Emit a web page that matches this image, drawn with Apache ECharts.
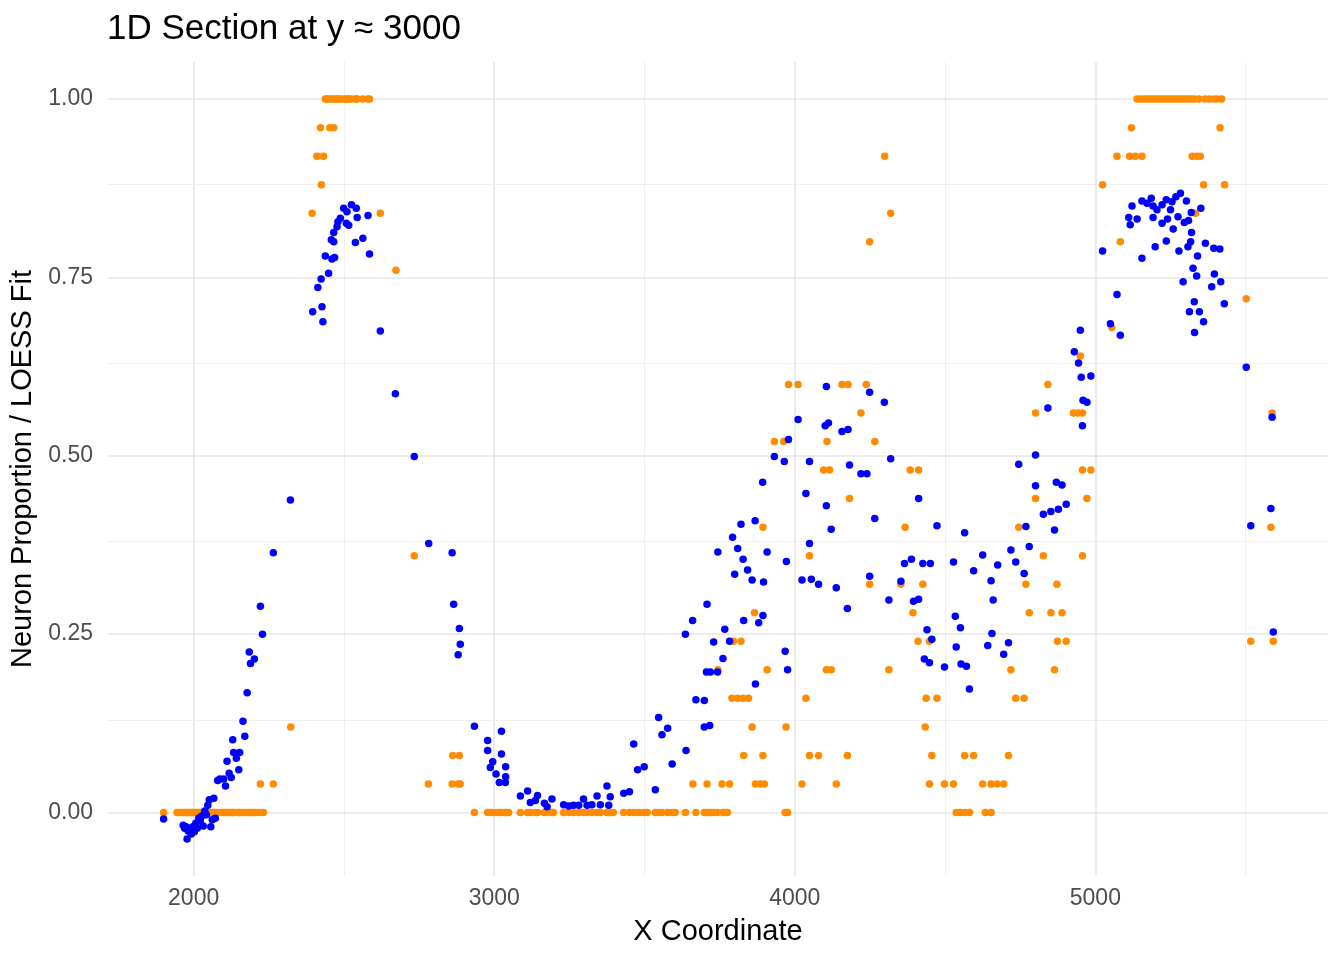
<!DOCTYPE html>
<html>
<head>
<meta charset="utf-8">
<script src="https://cdn.jsdelivr.net/npm/echarts@6/dist/echarts.min.js"></script>
<style>
html,body{margin:0;padding:0;background:#fff;}
#chart{width:1344px;height:960px;}
</style>
</head>
<body>
<div id="chart"></div>
<script>
// Observed neuron proportion (orange)
const proportion = [
[1900,0],[1945,0],[1952,0],[1958,0],[1965,0],[1970,0],[1975,0],[1978,0],[1982,0],[1987,0],[1992,0],[1997,0],
[2002,0],[2007,0],[2012,0],[2017,0],[2022,0],[2027,0],[2032,0],[2037,0],[2042,0],[2047,0],[2052,0],[2057,0],
[2062,0],[2067,0],[2072,0],[2080,0],[2087,0],[2094,0],[2100,0],[2106,0],[2111,0],[2118,0],[2125,0],[2130,0],
[2133,0],[2142,0],[2150,0],[2153,0],[2164,0],[2170,0],[2178,0],[2185,0],[2189,0],[2195,0],[2202,0],[2210,0],
[2218,0],[2232,0],[2222,0.04],[2265,0.04],[2323,0.12],
[2394,0.84],[2410,0.92],[2432,0.92],[2422,0.96],[2453,0.96],[2466,0.96],[2425,0.88],
[2438,1],[2444,1],[2449,1],[2458,1],[2460,1],[2469,1],[2477,1],[2480,1],[2488,1],[2499,1],[2508,1],[2510,1],
[2516,1],[2525,1],[2538,1],[2541,1],[2544,1],[2563,1],[2580,1],[2585,1],
[2621,0.84],[2673,0.76],[2734,0.36],[2781,0.04],[2862,0.08],[2884,0.08],[2860,0.04],[2880,0.04],[2887,0.04],
[2934,0],[2978,0],[2987,0],[2995,0],[3006,0],[3017,0],[3024,0],[3037,0],[3038,0],[3048,0],[3087,0],[3111,0],
[3120,0],[3137,0],[3144,0],[3167,0],[3176,0],[3192,0],[3197,0],[3231,0],[3248,0],[3264,0],[3281,0],[3297,0],
[3309,0],[3325,0],[3342,0],[3353,0],[3375,0],[3381,0],[3386,0],[3396,0],[3431,0],[3450,0],[3464,0],[3477,0],
[3484,0],[3499,0],[3509,0],[3536,0],[3547,0],[3558,0],[3577,0],[3592,0],[3602,0],[3636,0],[3671,0],[3699,0],
[3706,0],[3717,0],[3719,0],[3730,0],[3743,0],[3761,0],[3767,0],[3776,0],[3968,0],[3976,0],
[3661,0.04],[3708,0.04],[3758,0.04],[3783,0.04],[3869,0.04],[3886,0.04],[3899,0.04],[4024,0.04],
[3830,0.08],[3894,0.08],[4049,0.08],[4079,0.08],[3858,0.12],[3971,0.12],
[3791,0.16],[3810,0.16],[3828,0.16],[3846,0.16],[4037,0.16],[3744,0.2],[3908,0.2],[4105,0.2],
[3796,0.24],[3821,0.24],[3866,0.28],[4049,0.36],[3894,0.4],[4096,0.48],[4116,0.48],
[3932,0.52],[3963,0.52],[4107,0.52],[3979,0.6],[4011,0.6],
[4157,0.6],[4177,0.6],[4238,0.6],[4220,0.56],[4266,0.52],[4384,0.48],[4412,0.48],[4182,0.44],[4367,0.4],
[4249,0.32],[4353,0.32],[4426,0.32],[4393,0.28],[4410,0.24],[4448,0.24],[4121,0.2],[4313,0.2],
[4437,0.16],[4473,0.16],[4434,0.12],[4175,0.08],[4456,0.08],[4138,0.04],[4448,0.04],[4498,0.04],[4528,0.04],
[4299,0.92],[4319,0.84],[4249,0.8],
[4537,0],[4551,0],[4565,0],[4581,0],[4634,0],[4653,0],
[4565,0.08],[4595,0.08],[4711,0.08],[4625,0.04],[4653,0.04],[4673,0.04],[4695,0.04],
[4719,0.2],[4864,0.2],[4735,0.16],[4763,0.16],[4745,0.4],[4769,0.32],[4872,0.32],
[4780,0.28],[4852,0.28],[4889,0.28],[4801,0.56],[4927,0.56],[4942,0.56],[4957,0.56],[4801,0.44],
[4827,0.36],[4957,0.36],[4842,0.6],[4874,0.24],[4903,0.24],[4957,0.48],[4985,0.48],[4972,0.44],[4950,0.64],
[5024,0.88],[5360,0.88],[5430,0.88],[5055,0.68],[5072,0.92],[5114,0.92],[5133,0.92],[5155,0.92],
[5322,0.92],[5338,0.92],[5349,0.92],[5083,0.8],[5120,0.96],[5415,0.96],
[5139,1],[5150,1],[5160,1],[5170,1],[5180,1],[5190,1],[5200,1],[5210,1],[5220,1],[5230,1],[5240,1],[5250,1],
[5260,1],[5270,1],[5280,1],[5290,1],[5300,1],[5310,1],[5320,1],[5330,1],[5345,1],[5365,1],[5380,1],[5395,1],
[5405,1],[5420,1],
[5333,0.84],[5502,0.72],[5517,0.24],[5592,0.24],[5588,0.56],[5584,0.4]
];

// LOESS fit (blue)
const loessFit = [
[1900,-0.009],[1965,-0.018],[1970,-0.022],[1975,-0.02],[1978,-0.037],[1982,-0.026],[1987,-0.024],[1992,-0.03],
[1997,-0.02],[2002,-0.027],[2007,-0.015],[2012,-0.022],[2017,-0.008],[2022,-0.012],[2027,-0.005],[2032,-0.019],
[2037,0.002],[2042,-0.003],[2047,0.01],[2052,0.018],[2057,-0.02],[2062,-0.01],[2067,0.02],[2072,-0.008],
[2080,0.045],[2087,0.047],[2100,0.047],[2106,0.037],[2111,0.072],[2118,0.055],[2125,0.049],[2130,0.102],
[2133,0.084],[2142,0.076],[2150,0.06],[2153,0.084],[2164,0.128],[2170,0.107],[2178,0.168],
[2185,0.225],[2189,0.209],[2202,0.215],[2222,0.289],[2229,0.25],[2265,0.364],[2322,0.438],
[2396,0.702],[2413,0.736],[2424,0.748],[2427,0.709],[2430,0.688],[2438,0.78],[2449,0.756],[2458,0.803],
[2460,0.776],[2466,0.813],[2466,0.8],[2469,0.778],[2477,0.821],[2480,0.828],[2488,0.833],[2499,0.847],
[2508,0.826],[2510,0.842],[2516,0.823],[2525,0.852],[2538,0.799],[2541,0.847],[2544,0.834],[2563,0.805],
[2580,0.837],[2585,0.783],[2621,0.675],[2671,0.587],[2734,0.499],[2782,0.377],
[2860,0.364],[2865,0.292],[2884,0.258],[2887,0.236],[2880,0.221],[2934,0.121],[2978,0.101],[2978,0.087],
[3024,0.114],[3024,0.082],[2995,0.071],[2987,0.063],[3006,0.054],[3038,0.064],[3038,0.05],[3017,0.042],
[3037,0.042],[3087,0.023],[3111,0.03],[3120,0.014],[3144,0.024],[3137,0.017],[3167,0.013],[3176,0.008],
[3192,0.019],[3231,0.011],[3248,0.009],[3264,0.01],[3281,0.01],[3297,0.019],[3309,0.01],[3325,0.011],
[3342,0.023],[3353,0.011],[3375,0.037],[3386,0.022],[3381,0.01],[3431,0.027],[3450,0.029],[3464,0.096],
[3477,0.06],[3499,0.064],[3536,0.032],[3547,0.133],[3558,0.109],[3577,0.118],[3592,0.068],[3636,0.25],
[3638,0.087],[3660,0.269],[3671,0.158],[3699,0.157],[3699,0.12],[3717,0.122],[3708,0.292],[3706,0.197],
[3719,0.197],[3743,0.197],[3730,0.239],[3744,0.365],[3761,0.216],[3767,0.257],[3783,0.24],[3793,0.386],
[3800,0.334],[3810,0.37],[3821,0.404],[3828,0.355],[3830,0.269],[3843,0.34],[3858,0.326],[3868,0.409],
[3869,0.18],[3880,0.266],[3894,0.276],[3893,0.463],[3896,0.323],[3908,0.365],[3932,0.499],[3965,0.492],
[3968,0.226],[3976,0.2],[3972,0.352],[3979,0.523],[4011,0.551],[4024,0.326],[4055,0.327],[4079,0.32],
[4037,0.447],[4049,0.492],[4049,0.377],[4105,0.597],[4101,0.542],[4112,0.546],[4105,0.43],[4121,0.397],
[4138,0.315],[4157,0.534],[4177,0.537],[4175,0.286],[4182,0.487],[4220,0.475],[4240,0.475],[4249,0.589],
[4249,0.331],[4266,0.412],[4298,0.575],[4313,0.298],[4319,0.496],[4353,0.324],[4365,0.349],[4388,0.355],
[4395,0.296],[4412,0.299],[4412,0.44],[4426,0.349],[4451,0.349],[4440,0.256],[4456,0.243],[4431,0.215],
[4448,0.21],[4473,0.402],[4498,0.204],[4528,0.351],[4534,0.275],[4537,0.232],[4551,0.259],[4553,0.208],
[4565,0.392],[4571,0.205],[4581,0.173],[4595,0.339],[4625,0.361],[4642,0.234],[4653,0.325],[4656,0.251],
[4660,0.298],[4675,0.347],[4695,0.222],[4711,0.238],[4719,0.368],[4735,0.351],[4745,0.488],[4763,0.335],
[4769,0.401],[4780,0.373],[4801,0.501],[4801,0.458],[4827,0.418],[4842,0.567],[4852,0.422],[4864,0.396],
[4870,0.463],[4877,0.425],[4889,0.459],[4903,0.432],[4930,0.646],[4944,0.63],[4950,0.676],[4953,0.61],
[4957,0.542],[4959,0.578],[4972,0.575],[4985,0.612],
[5024,0.787],[5050,0.685],[5072,0.726],[5083,0.669],[5111,0.834],[5116,0.824],[5122,0.85],[5139,0.832],
[5155,0.857],[5155,0.777],[5172,0.854],[5186,0.861],[5192,0.85],[5192,0.834],[5199,0.793],[5205,0.845],
[5222,0.852],[5222,0.826],[5236,0.859],[5236,0.801],[5240,0.832],[5250,0.845],[5255,0.856],[5259,0.818],
[5268,0.863],[5275,0.835],[5278,0.787],[5283,0.868],[5292,0.744],[5296,0.827],[5303,0.857],[5308,0.793],
[5310,0.83],[5313,0.702],[5317,0.8],[5319,0.841],[5320,0.813],[5325,0.763],[5329,0.716],[5330,0.673],
[5337,0.752],[5340,0.78],[5346,0.702],[5351,0.847],[5360,0.688],[5366,0.798],[5387,0.737],[5394,0.791],
[5396,0.755],[5414,0.79],[5417,0.744],[5429,0.713],
[5502,0.624],[5517,0.402],[5584,0.426],[5588,0.554],[5592,0.253]
];

const xTickLabels = [2000, 3000, 4000, 5000];
const yTickLabels = [0, 0.25, 0.5, 0.75, 1];
const xMinorGrid = [2500, 3500, 4500, 5500];
const yMinorGrid = [0.125, 0.375, 0.625, 0.875];

const gridColor = '#E6E6E6';
const gridLines = [];
xTickLabels.forEach(v => gridLines.push({xAxis: v, lineStyle: {color: gridColor, width: 1.6, type: 'solid'}}));
xMinorGrid.forEach(v => gridLines.push({xAxis: v, lineStyle: {color: '#EDEDED', width: 0.9, type: 'solid'}}));
yTickLabels.forEach(v => gridLines.push({yAxis: v, lineStyle: {color: gridColor, width: 1.6, type: 'solid'}}));
yMinorGrid.forEach(v => gridLines.push({yAxis: v, lineStyle: {color: '#EDEDED', width: 0.9, type: 'solid'}}));

const font = '"Liberation Sans", Arial, Helvetica, sans-serif';
const chart = echarts.init(document.getElementById('chart'), null, {renderer: 'canvas'});
chart.setOption({
  backgroundColor: '#ffffff',
  animation: false,
  title: {
    text: '1D Section at y ≈ 3000',
    left: 107, top: 12, padding: 0,
    textStyle: {fontFamily: font, fontSize: 35, fontWeight: 'normal', color: '#000000'}
  },
  grid: {left: 108, right: 16, top: 62, bottom: 84, containLabel: false},
  xAxis: {
    type: 'value', min: 1715, max: 5774,
    axisLine: {show: false}, axisTick: {show: false}, splitLine: {show: false},
    axisLabel: {customValues: xTickLabels, color: '#4D4D4D', fontSize: 23, fontFamily: font, margin: 11,
      formatter: v => String(Math.round(v))},
    name: 'X Coordinate', nameLocation: 'middle', nameGap: 41,
    nameTextStyle: {fontFamily: font, fontSize: 29, color: '#000000'}
  },
  yAxis: {
    type: 'value', min: -0.089, max: 1.052,
    axisLine: {show: false}, axisTick: {show: false}, splitLine: {show: false},
    axisLabel: {customValues: yTickLabels, color: '#4D4D4D', fontSize: 23, fontFamily: font, margin: 15,
      formatter: v => Number(v).toFixed(2)},
    name: 'Neuron Proportion / LOESS Fit', nameLocation: 'middle', nameGap: 63, nameRotate: 90,
    nameTextStyle: {fontFamily: font, fontSize: 29, color: '#000000'}
  },
  series: [
    {
      type: 'scatter', data: [], z: 0, silent: true,
      markLine: {silent: true, z: 0, symbol: 'none', label: {show: false}, animation: false, data: gridLines}
    },
    {
      name: 'Proportion', type: 'scatter', data: proportion, z: 2,
      symbol: 'circle', symbolSize: 7.5, itemStyle: {color: '#FF8C00', opacity: 1}
    },
    {
      name: 'LOESS Fit', type: 'scatter', data: loessFit, z: 3,
      symbol: 'circle', symbolSize: 7.5, itemStyle: {color: '#0000FF', opacity: 1}
    }
  ]
});
</script>
</body>
</html>
